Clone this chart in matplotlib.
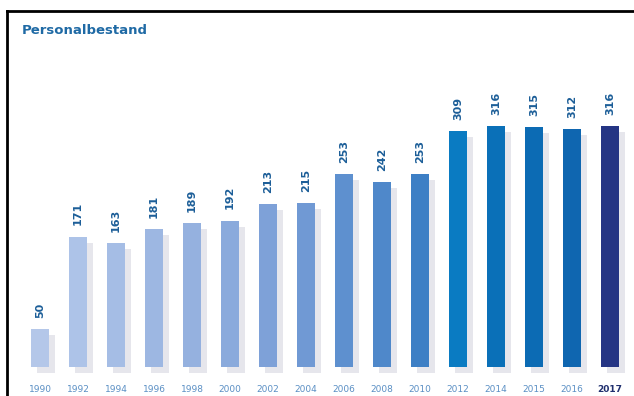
import matplotlib
matplotlib.use("Agg")
import matplotlib.pyplot as plt
from matplotlib.lines import Line2D
from matplotlib.transforms import offset_copy

# Daten
years = ["1990", "1992", "1994", "1996", "1998", "2000", "2002", "2004",
         "2006", "2008", "2010", "2012", "2014", "2015", "2016", "2017"]
staff = [50, 171, 163, 181, 189, 192, 213, 215,
         253, 242, 253, 309, 316, 315, 312, 316]
bar_colors = ["#b4c7e9", "#adc3e8", "#a5bde5", "#9db7e2", "#95b1df", "#8aaadc",
              "#7ea1d8", "#7099d4", "#5e90cf", "#4f88ca", "#3d7fc5", "#0a7bc2",
              "#0a70b8", "#0c6bb4", "#0f66b0", "#253584"]

W, H = 634, 396
fig = plt.figure(figsize=(W / 100, H / 100), dpi=100)
fig.patch.set_facecolor("white")

# Achse in Pixeln platzieren
ax = fig.add_axes([21 / W, 29 / H, 608 / W, 355 / H])
ax.set_xlim(-0.5, len(years) - 0.5)
ax.set_ylim(0, 355 / 0.763)
ax.axis("off")

x = list(range(len(years)))

# Schatten hinter den Balken
shadow_tr = offset_copy(ax.transData, fig=fig, x=6, y=-6, units="dots")
ax.bar(x, staff, width=0.49, color="#e6e6ec", transform=shadow_tr,
       clip_on=False, zorder=1)
ax.bar(x, staff, width=0.49, color=bar_colors, zorder=2)

# Werte über den Balken
for xi, v in zip(x, staff):
    ax.annotate(str(v), (xi, v), xytext=(0, 8), textcoords="offset points",
                rotation=90, ha="center", va="bottom", fontsize=8,
                fontweight="bold", color="#1c5e98")

# Jahreszahlen
for xi, yr in zip(x, years):
    last = yr == "2017"
    fig.text((40 + 38 * xi) / W, 1 - 389 / H, yr, ha="center", va="center",
             fontsize=6.5, color="#1f2f6e" if last else "#5a8fc4",
             fontweight="bold" if last else "normal")

# Titel
fig.text(22 / W, 1 - 30 / H, "Personalbestand", ha="left", va="center",
         fontsize=9.5, fontweight="bold", color="#1f6aa5")

# Rahmen links und oben
fig.add_artist(Line2D([7 / W, 7 / W], [0, 1 - 11 / H], color="black", lw=2))
fig.add_artist(Line2D([7 / W, 1], [1 - 11 / H, 1 - 11 / H], color="black", lw=2))

fig.savefig("out.png", dpi=100)
